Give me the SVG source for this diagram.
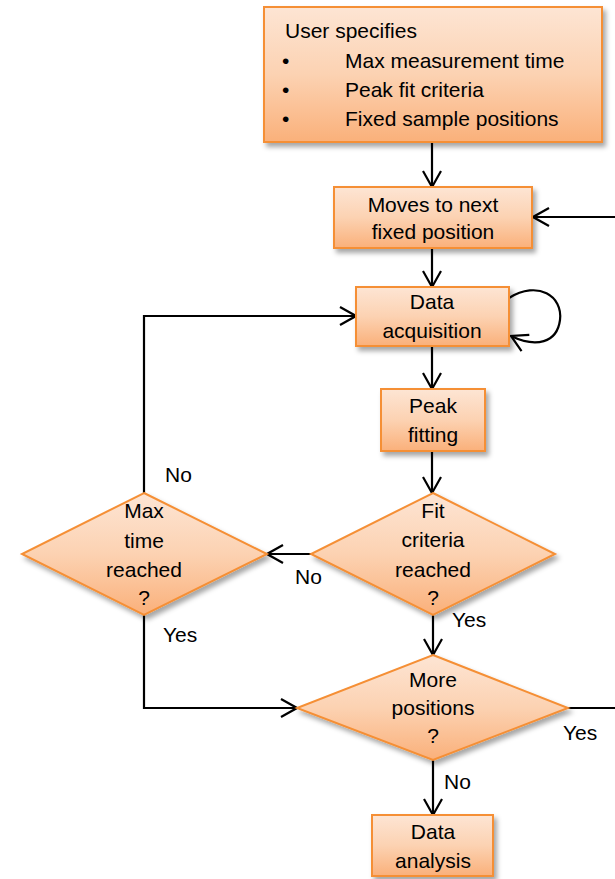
<svg xmlns="http://www.w3.org/2000/svg" width="615" height="879" viewBox="0 0 615 879">
<style>
.node{fill:url(#og);stroke:#f58f35;stroke-width:2;filter:url(#sh)}
.t{font-family:"Liberation Sans",Arial,sans-serif;font-size:21px;fill:#000}
.c{text-anchor:middle}
.ln{fill:none;stroke:#000;stroke-width:2.2}
</style>
<defs>
<linearGradient id="og" x1="0" y1="0" x2="0" y2="1">
<stop offset="0" stop-color="#fde5d4"/>
<stop offset="0.5" stop-color="#fcd2b2"/>
<stop offset="1" stop-color="#fab07a"/>
</linearGradient>
<filter id="sh" x="-20%" y="-20%" width="140%" height="150%">
<feDropShadow dx="3" dy="4" stdDeviation="2.5" flood-color="#000" flood-opacity="0.35"/>
</filter>
<marker id="ah" markerUnits="userSpaceOnUse" viewBox="-2 -11 20 22" refX="16" refY="0" markerWidth="20" markerHeight="22" orient="auto">
<path d="M0,-9 L16,0 L0,9" fill="none" stroke="#000" stroke-width="2.2" stroke-linejoin="miter"/>
</marker>
</defs>

<g id="connectors">
<path class="ln" d="M432,142 L432,187" marker-end="url(#ah)"/>
<path class="ln" d="M432,248 L432,287" marker-end="url(#ah)"/>
<path class="ln" d="M509,298 C538,280 563,296 560,320 C557,343 536,348 511,336" marker-end="url(#ah)"/>
<path class="ln" d="M432,346 L432,389" marker-end="url(#ah)"/>
<path class="ln" d="M432,451 L432,493" marker-end="url(#ah)"/>
<path class="ln" d="M311,554 L267,554" marker-end="url(#ah)"/>
<path class="ln" d="M144,493 L144,316 L356,316" marker-end="url(#ah)"/>
<path class="ln" d="M433,615 L433,655" marker-end="url(#ah)"/>
<path class="ln" d="M144,615 L144,708 L297,708" marker-end="url(#ah)"/>
<path class="ln" d="M568,708 L630,708 L630,217 L533,217" marker-end="url(#ah)"/>
<path class="ln" d="M433,760 L433,815" marker-end="url(#ah)"/>
<text class="t" x="165" y="482">No</text>
<text class="t" x="295" y="584">No</text>
<text class="t" x="163" y="642">Yes</text>
<text class="t" x="452" y="627">Yes</text>
<text class="t" x="563" y="740">Yes</text>
<text class="t" x="444" y="789">No</text>
</g>

<g id="user-specifies">
<rect class="node" x="264" y="7" width="338" height="135"/>
<text class="t" x="285" y="38">User specifies</text>
<text class="t" x="282" y="68">•</text>
<text class="t" x="345" y="68">Max measurement time</text>
<text class="t" x="282" y="97">•</text>
<text class="t" x="345" y="97">Peak fit criteria</text>
<text class="t" x="282" y="126">•</text>
<text class="t" x="345" y="126">Fixed sample positions</text>
</g>

<g id="moves">
<rect class="node" x="334" y="187" width="198" height="61"/>
<text class="t c" x="433" y="212">Moves to next</text>
<text class="t c" x="433" y="239">fixed position</text>
</g>

<g id="data-acquisition">
<rect class="node" x="356" y="287" width="153" height="59"/>
<text class="t c" x="432" y="309">Data</text>
<text class="t c" x="432" y="338">acquisition</text>
</g>

<g id="peak-fitting">
<rect class="node" x="381" y="389" width="104" height="62"/>
<text class="t c" x="433" y="413">Peak</text>
<text class="t c" x="433" y="442">fitting</text>
</g>

<g id="fit-criteria">
<polygon class="node" points="433,493 555,554 433,615 311,554"/>
<text class="t c" x="433" y="518">Fit</text>
<text class="t c" x="433" y="547">criteria</text>
<text class="t c" x="433" y="577">reached</text>
<text class="t c" x="433" y="605">?</text>
</g>

<g id="max-time">
<polygon class="node" points="144,493 267,554 144,615 22,554"/>
<text class="t c" x="144" y="518">Max</text>
<text class="t c" x="144" y="548">time</text>
<text class="t c" x="144" y="577">reached</text>
<text class="t c" x="144" y="605">?</text>
</g>

<g id="more-positions">
<polygon class="node" points="433,655 568,708 433,760 297,708"/>
<text class="t c" x="433" y="687">More</text>
<text class="t c" x="433" y="715">positions</text>
<text class="t c" x="433" y="743">?</text>
</g>

<g id="data-analysis">
<rect class="node" x="372" y="815" width="121" height="61"/>
<text class="t c" x="433" y="839">Data</text>
<text class="t c" x="433" y="868">analysis</text>
</g>
</svg>
